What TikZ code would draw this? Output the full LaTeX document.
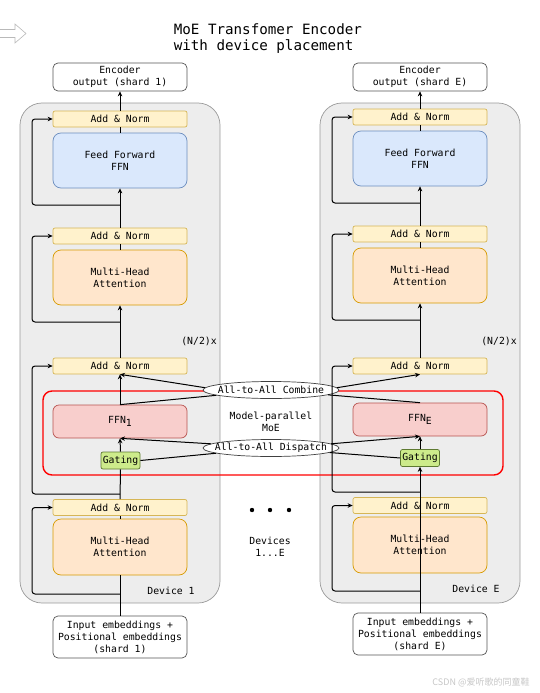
\documentclass[tikz,border=0pt]{standalone}
\usepackage{fontspec}
\setmonofont{DejaVu Sans Mono}
\newfontfamily\cjkfont{Noto Sans CJK SC}
\usetikzlibrary{arrows.meta,shapes.geometric,positioning}

\definecolor{anfill}{HTML}{FFF2CC}
\definecolor{anline}{HTML}{D6B656}
\definecolor{ffnfill}{HTML}{DAE8FC}
\definecolor{ffnline}{HTML}{6C8EBF}
\definecolor{mhafill}{HTML}{FFE6CC}
\definecolor{mhaline}{HTML}{D79B00}
\definecolor{expfill}{HTML}{F8CECC}
\definecolor{expline}{HTML}{B85450}
\definecolor{gatefill}{HTML}{CDEB8B}
\definecolor{gateline}{HTML}{5E7A32}
\definecolor{devfill}{HTML}{EDEDED}
\definecolor{devline}{HTML}{9A9A9A}
\definecolor{ioline}{HTML}{555555}

\begin{document}
\begin{tikzpicture}[x=1pt, y=-1pt, line width=1pt,
  font=\ttfamily\fontsize{9.8}{12}\selectfont,
  box/.style={draw, line width=0.7pt, align=center, inner sep=1pt, minimum width=134pt},
  an/.style={box, fill=anfill, draw=anline, minimum height=16pt, rounded corners=2pt},
  ffnbox/.style={box, fill=ffnfill, draw=ffnline, minimum height=55pt, rounded corners=8pt},
  mha/.style={box, fill=mhafill, draw=mhaline, minimum height=55pt, rounded corners=8pt},
  expert/.style={box, fill=expfill, draw=expline, minimum height=33pt, rounded corners=6pt},
  gate/.style={draw=gateline, fill=gatefill, line width=0.7pt, inner sep=1pt,
    minimum width=39pt, minimum height=17pt, rounded corners=2pt},
  io/.style={box, draw=ioline, fill=white, rounded corners=5pt},
  device/.style={draw=devline, fill=devfill, line width=0.7pt, rounded corners=22pt,
    minimum width=200pt, minimum height=500pt},
  a2a/.style={ellipse, draw=black!75, fill=white, line width=0.7pt, inner sep=0pt,
    minimum width=136pt, minimum height=17pt},
  arr/.style={-{Stealth[length=5pt,width=4.5pt]}},
  skip/.style={arr, rounded corners=3pt}]

\useasboundingbox (0,0) rectangle (539,693);

% hollow arrow, top left
\draw[draw=gray!55, fill=white, line width=0.6pt]
  (0,29.5) -- (15,29.5) -- (15,24) -- (26,33.5) -- (15,43) -- (15,37.5) -- (0,37.5);

\node[anchor=west, align=left, font=\ttfamily\fontsize{14.2}{16}\selectfont] (title)
  at (170,39) {MoE Transfomer Encoder\\with device placement};

% devices
\node[device] (dev1) at (120,353) {};
\node[device] (dev2) at (420,353) {};
\node (rep1) at (199,341) {(N/2)x};
\node (rep2) at (499,341) {(N/2)x};
\node (devlab1) at (171,591) {Device 1};
\node (devlab2) at (476,589) {Device E};

% model-parallel part
\draw[red, line width=1.4pt, rounded corners=9pt] (43,391) rectangle (503,475);
\node[align=center] (mp) at (271,421.5) {Model-parallel\\MoE};

% device 1
\node[io, minimum height=28pt] (out1) at (120,77) {Encoder\\output (shard 1)};
\node[an] (an1a) at (120,119) {Add \& Norm};
\node[ffnbox] (ffn1) at (120,160.5) {Feed Forward\\FFN};
\node[an] (an1b) at (120,236) {Add \& Norm};
\node[mha] (att1a) at (120,277.5) {Multi-Head\\Attention};
\node[an] (an1c) at (120,366) {Add \& Norm};
\node[expert] (exp1) at (120,421.5) {FFN\raisebox{-2.5pt}{1}};
\node[gate] (gate1) at (120.5,460.5) {Gating};
\node[an] (an1d) at (120,507.5) {Add \& Norm};
\node[mha, minimum height=56pt] (att1b) at (120,547) {Multi-Head\\Attention};
\node[io, minimum height=42pt] (in1) at (120,637) {Input embeddings +\\Positional embeddings\\(shard 1)};

% device E
\node[io, minimum height=28pt] (out2) at (420,77) {Encoder\\output (shard E)};
\node[an] (an2a) at (420,117) {Add \& Norm};
\node[ffnbox] (ffn2) at (420,158.5) {Feed Forward\\FFN};
\node[an] (an2b) at (420,234) {Add \& Norm};
\node[mha] (att2a) at (420,275.5) {Multi-Head\\Attention};
\node[an] (an2c) at (420,366) {Add \& Norm};
\node[expert] (exp2) at (420,419.5) {FFN\raisebox{-2.5pt}{E}};
\node[gate] (gate2) at (420,458) {Gating};
\node[an] (an2d) at (420,505.5) {Add \& Norm};
\node[mha, minimum height=56pt] (att2b) at (420,545) {Multi-Head\\Attention};
\node[io, minimum height=42pt] (in2) at (420,634) {Input embeddings +\\Positional embeddings\\(shard E)};

% all-to-all
\node[a2a, label=center:{All-to-All Combine}] (comb) at (271,390) {};
\node[a2a, label=center:{All-to-All Dispatch}] (disp) at (271,448) {};

% devices in between
\foreach \x in {252,270,289}
  \fill (\x,510) circle (2.2pt);
\node[align=center] (devs) at (270,547) {Devices\\1...E};

% skip points
\coordinate (l1) at (32,0);
\coordinate (l2) at (332,0);
\coordinate (sk1a) at (120,205);
\coordinate (sk1b) at (120,322);
\coordinate (sk1c) at (120,494);
\coordinate (sk1d) at (120,594);
\coordinate (sk2a) at (420,203);
\coordinate (sk2b) at (420,320);
\coordinate (sk2c) at (420,492);
\coordinate (sk2d) at (420,591);

% device 1 connections
\draw (in1.north) -- (att1b.south);
\draw (att1b.north) -- (an1d.south);
\draw[skip] (sk1d) -| (l1 |- an1d.west) -- (an1d.west);
\draw (an1d.north) -- (gate1.south);
\draw[skip] (sk1c) -| (l1 |- an1c.west) -- (an1c.west);
\draw[arr] (gate1.north) -- (exp1.south);
\draw[arr] (exp1.north) -- (an1c.south);
\draw[arr] (an1c.north) -- (att1a.south);
\draw (att1a.north) -- (an1b.south);
\draw[skip] (sk1b) -| (l1 |- an1b.west) -- (an1b.west);
\draw[arr] (an1b.north) -- (ffn1.south);
\draw (ffn1.north) -- (an1a.south);
\draw[skip] (sk1a) -| (l1 |- an1a.west) -- (an1a.west);
\draw[arr] (an1a.north) -- (out1.south);

% device E connections
\draw[arr] (in2.north) -- (gate2.south);
\draw[skip] (sk2d) -| (l2 |- an2d.west) -- (an2d.west);
\draw[skip] (sk2c) -| (l2 |- an2c.west) -- (an2c.west);
\draw[arr] (gate2.north) -- (exp2.south);
\draw[arr] (an2c.north) -- (att2a.south);
\draw (att2a.north) -- (an2b.south);
\draw[skip] (sk2b) -| (l2 |- an2b.west) -- (an2b.west);
\draw[arr] (an2b.north) -- (ffn2.south);
\draw (ffn2.north) -- (an2a.south);
\draw[skip] (sk2a) -| (l2 |- an2a.west) -- (an2a.west);
\draw[arr] (an2a.north) -- (out2.south);

% dispatch and combine
\draw (gate1.east) -- (disp);
\draw[arr] (disp.176) -- (exp1.south);
\draw (gate2.west) -- (disp);
\draw[arr] (disp.4) -- (exp2.south);
\draw (exp1.north) -- (comb);
\draw[arr] (comb.178) -- (an1c.south);
\draw (exp2.north) -- (comb);
\draw[arr] (comb.2) -- (an2c.south);

\node[text=gray!45, font=\cjkfont\fontsize{9}{10}\selectfont] (wm) at (481,682) {CSDN @爱听歌的同童鞋};
\end{tikzpicture}
\end{document}
